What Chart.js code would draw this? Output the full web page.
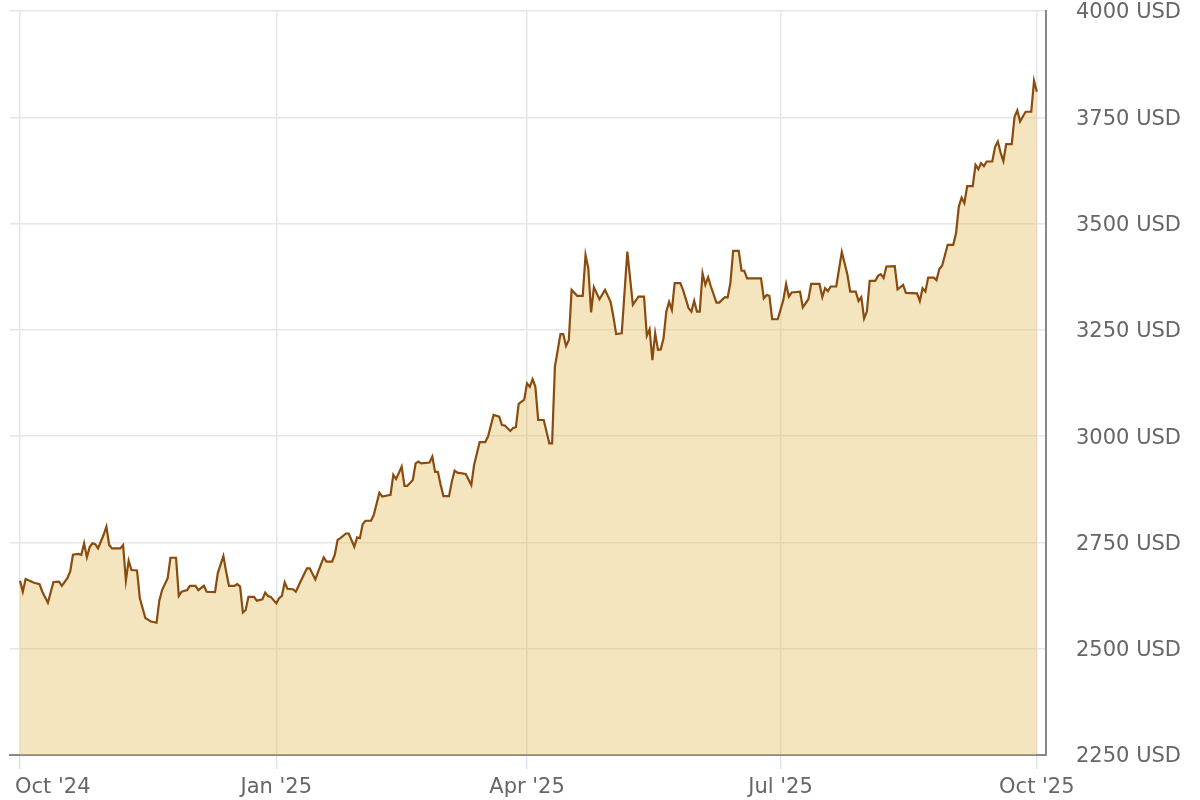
<!DOCTYPE html>
<html>
<head>
<meta charset="utf-8">
<title>Gold price</title>
<script src="https://cdn.jsdelivr.net/npm/chart.js@4.4.1/dist/chart.umd.min.js"></script>
<style>
    html, body { margin: 0; padding: 0; background: #fff; }
    #wrap { width: 1200px; height: 800px; position: relative; }
</style>
</head>
<body>
<div id="wrap"><canvas id="goldChart"></canvas></div>
<script>
// days since 1 Oct 2024
const days = [
    0, 1, 2, 4, 5, 7, 8, 10, 12, 14, 15, 17, 18, 19, 21, 22, 23, 24, 25, 26,
    27, 28, 30, 31, 32, 33, 36, 37, 38, 39, 40, 42, 43, 44, 45, 47, 49, 50, 51, 53,
    54, 56, 57, 58, 60, 61, 63, 64, 66, 67, 70,
    71, 73, 74, 75, 77, 78, 79, 80, 81, 82, 84, 85, 87, 88, 89, 90, 92, 93, 94, 95,
    96, 98, 99, 100, 101, 103, 104, 106, 107, 109, 110, 112, 113, 114, 115, 117, 118, 120, 121, 122,
    123, 124, 126, 127, 129, 130, 133, 134, 135, 137, 138, 139, 141, 142, 143, 144, 147, 148, 149, 150,
    151, 152, 154, 155, 156, 157, 160, 162, 163, 165, 167, 168, 170, 172, 173, 174, 176, 177, 178, 179,
    181, 182, 183, 184, 185, 186, 188, 190, 191,
    192, 194, 195, 196, 197, 198, 200, 202, 203, 204, 205, 206, 208, 210, 212, 213, 214, 216, 218, 220,
    222, 224, 225, 226, 227, 228, 229, 230, 231, 232, 233, 234, 235, 237, 238, 240, 241, 242, 243, 244,
    245, 246, 247, 248, 250, 251, 253, 254, 255, 256, 258, 259, 260, 261, 266, 267, 268, 269, 270, 272,
    274, 275, 276, 277, 280, 281, 283, 284, 287, 288, 289, 290, 291, 293, 295, 297, 298, 300, 301, 302,
    303, 304, 305, 307, 308, 309, 310, 311, 314, 315, 317, 318, 322, 323, 324, 325, 326, 328, 329, 330,
    331, 333, 335, 336, 337, 338, 339, 340, 342, 343, 344, 345, 346, 347, 349, 350, 351, 352, 353, 354,
    356, 357, 358, 359, 360, 361, 363, 364, 365
];

const prices = [
    2660, 2634, 2664, 2658, 2655, 2652, 2634, 2608, 2657, 2658, 2648, 2666, 2681, 2721, 2723, 2721, 2748, 2715, 2739, 2748,
    2746, 2736, 2768, 2787, 2744, 2736, 2736, 2744, 2660, 2707, 2685, 2684, 2619, 2595, 2572, 2564, 2561, 2613, 2638, 2666,
    2714, 2714, 2624, 2634, 2638, 2648, 2648, 2638, 2648, 2634, 2633,
    2678, 2718, 2681, 2648, 2648, 2652, 2646, 2585, 2591, 2622, 2622, 2613, 2616, 2632, 2624, 2622, 2607, 2619, 2624, 2656,
    2641, 2640, 2634, 2648, 2662, 2689, 2689, 2663, 2681, 2715, 2705, 2705, 2721, 2756, 2760, 2771, 2771, 2740, 2762, 2760,
    2793, 2801, 2801, 2815, 2867, 2858, 2862, 2909, 2899, 2928, 2883, 2883, 2897, 2936, 2940, 2936, 2938, 2952, 2916, 2916,
    2885, 2859, 2859, 2893, 2919, 2914, 2911, 2885, 2932, 2986, 2986, 2999, 3050, 3046, 3026, 3025, 3012, 3019, 3021, 3076,
    3086, 3124, 3116, 3134, 3116, 3038, 3038, 2983, 2983,
    3163, 3240, 3240, 3212, 3226, 3344, 3330, 3330, 3426, 3395, 3291, 3350, 3322, 3344, 3316, 3281, 3240, 3242, 3434, 3309,
    3328, 3328, 3236, 3251, 3179, 3242, 3203, 3204, 3230, 3293, 3316, 3297, 3360, 3360, 3344, 3301, 3293, 3318, 3293, 3293,
    3383, 3356, 3374, 3352, 3314, 3314, 3327, 3326, 3360, 3436, 3436, 3389, 3389, 3371, 3371, 3324, 3332, 3330, 3275, 3275,
    3320, 3358, 3328, 3338, 3340, 3303, 3322, 3358, 3358, 3327, 3348, 3341, 3352, 3352, 3433, 3380, 3340, 3340, 3318, 3327,
    3277, 3293, 3365, 3365, 3377, 3381, 3372, 3399, 3400, 3345, 3356, 3337, 3336, 3318, 3348, 3340, 3373, 3373, 3367, 3393,
    3401, 3450, 3450, 3477, 3540, 3561, 3548, 3588, 3588, 3638, 3628, 3642, 3635, 3646, 3646, 3680, 3693, 3667, 3647, 3687,
    3687, 3751, 3766, 3740, 3752, 3763, 3763, 3836, 3810
];

const tickDays = [0, 92, 182, 273, 365];
const tickLabels = ["Oct '24", "Jan '25", "Apr '25", "Jul '25", "Oct '25"];

const yMin = 2250;
const yMax = 4000;
const yStep = 250;
const currency = 'USD';

const labelFont = '21px "DejaVu Sans", sans-serif';
const labelColor = '#666666';

// x labels: first one is pushed inside the plot, rest centred on the tick
const xLabelsPlugin = {
    id: 'xLabels',
    afterDraw(chart) {
        const ctx = chart.ctx;
        const xScale = chart.scales.x;
        const y = chart.chartArea.bottom + 38;
        ctx.save();
        ctx.font = labelFont;
        ctx.fillStyle = labelColor;
        ctx.textBaseline = 'alphabetic';
        tickDays.forEach((d, i) => {
            const px = xScale.getPixelForValue(d);
            if (i === 0) {
                ctx.textAlign = 'left';
                ctx.fillText(tickLabels[i], px - 5, y);
            } else {
                ctx.textAlign = 'center';
                ctx.fillText(tickLabels[i], px, y);
            }
        });
        ctx.restore();
    }
};

const points = days.map((d, i) => ({ x: d, y: prices[i] }));

new Chart(document.getElementById('goldChart').getContext('2d'), {
    type: 'line',
    data: {
        datasets: [{
            data: points,
            borderColor: '#8a4b0e',
            borderWidth: 2.2,
            backgroundColor: 'rgba(230, 190, 95, 0.4)',
            fill: 'start',
            pointRadius: 0,
            tension: 0
        }]
    },
    options: {
        responsive: true,
        maintainAspectRatio: false,
        animation: false,
        layout: {
            padding: { left: 10, right: 19, top: 11, bottom: 31 }
        },
        plugins: {
            legend: { display: false },
            tooltip: { enabled: false }
        },
        scales: {
            x: {
                type: 'linear',
                min: -3.6,
                max: 368.3,
                afterBuildTicks: (scale) => {
                    scale.ticks = tickDays.map(v => ({ value: v }));
                },
                ticks: { display: false },
                grid: {
                    color: '#e6e6e6',
                    lineWidth: 1.5,
                    drawTicks: true,
                    tickLength: 14,
                    tickColor: '#ccd6eb',
                    tickWidth: 1
                },
                border: { display: true, color: '#888888', width: 2 }
            },
            y: {
                position: 'right',
                min: yMin,
                max: yMax,
                ticks: {
                    stepSize: yStep,
                    padding: 0,
                    labelOffset: 2,
                    color: labelColor,
                    font: { family: '"DejaVu Sans", sans-serif', size: 21, lineHeight: 1 },
                    callback: (v) => v + ' ' + currency
                },
                grid: {
                    color: '#e6e6e6',
                    lineWidth: 1.5,
                    drawTicks: true,
                    tickLength: 30,
                    tickColor: 'rgba(0,0,0,0)'
                },
                border: { display: true, color: '#888888', width: 2 }
            }
        }
    },
    plugins: [xLabelsPlugin]
});
</script>
</body>
</html>
